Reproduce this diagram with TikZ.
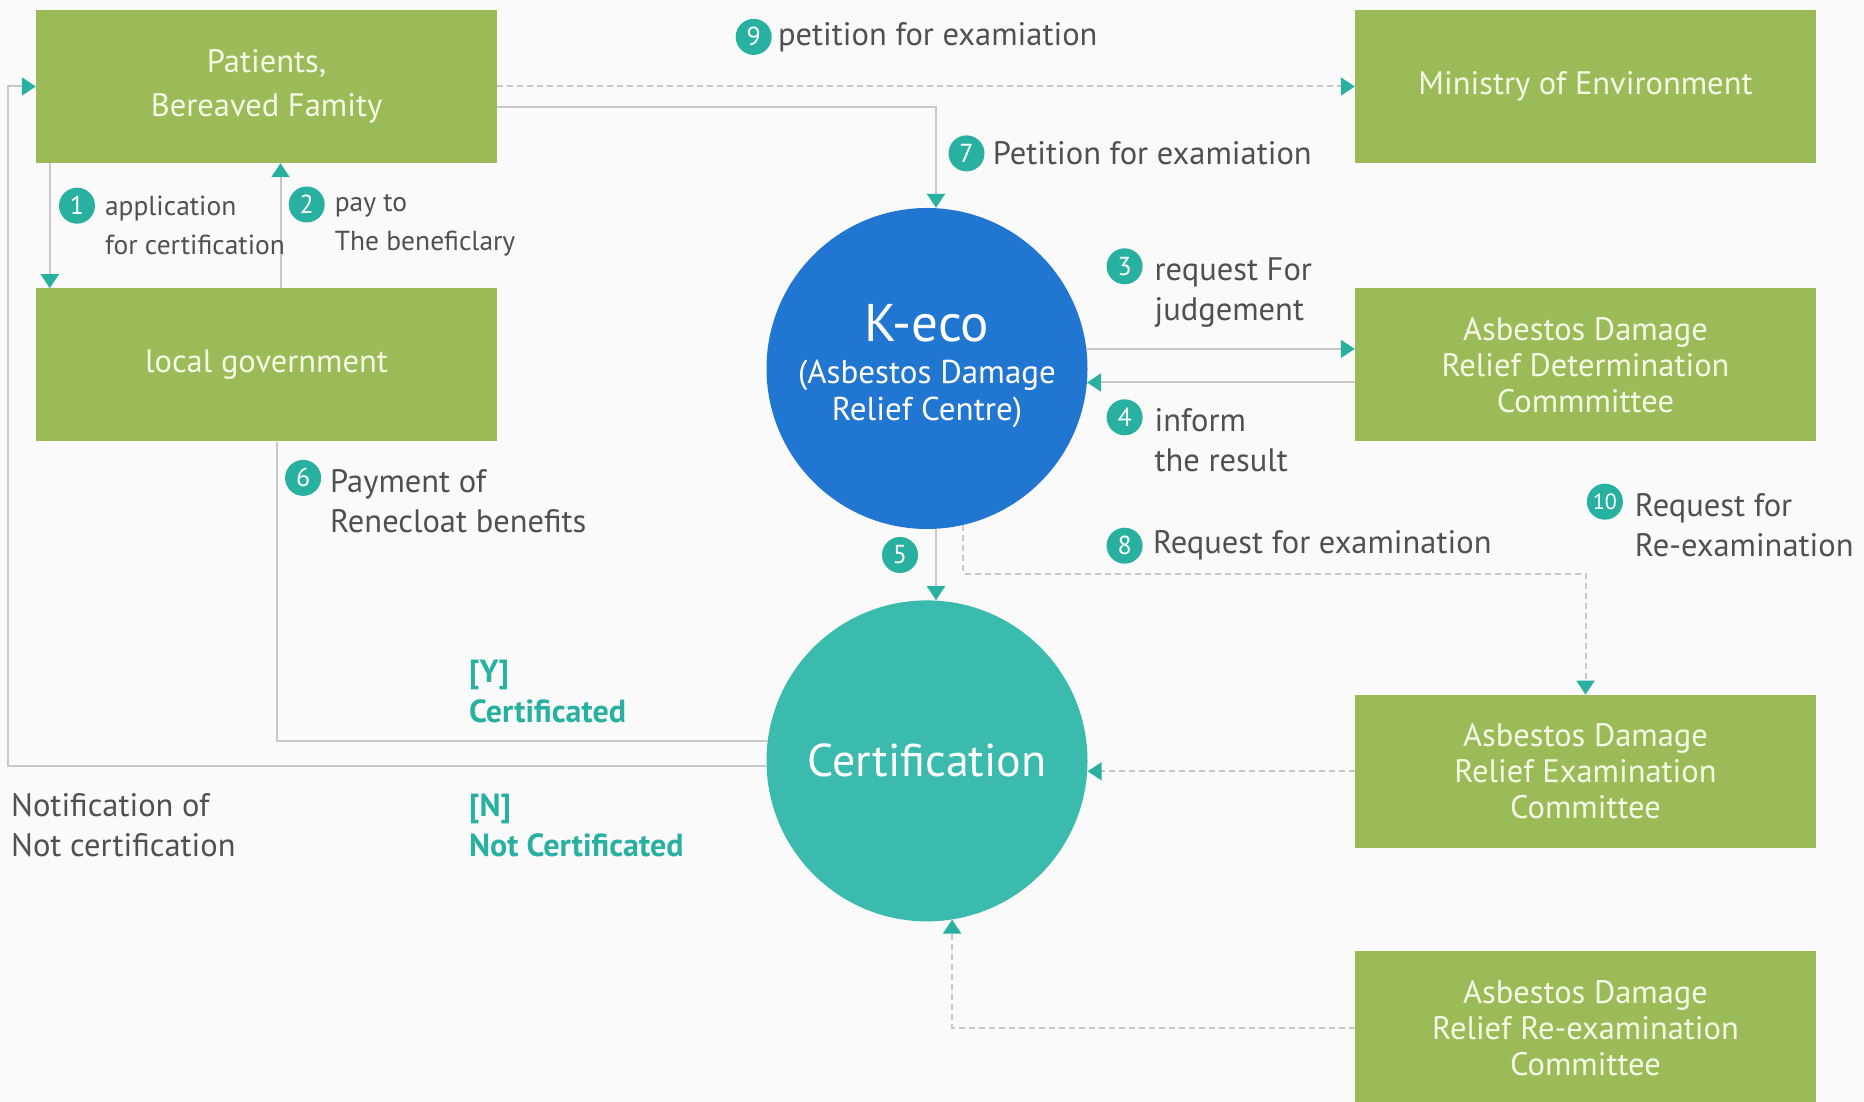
\documentclass[tikz,border=0pt]{standalone}
\usepackage{fontspec}
\setmainfont{PT Sans}
\usetikzlibrary{positioning,arrows.meta}

\definecolor{boxgreen}{RGB}{155,187,89}
\definecolor{boxtext}{RGB}{245,250,228}
\definecolor{kecoblue}{RGB}{33,118,210}
\definecolor{certteal}{RGB}{59,187,174}
\definecolor{numteal}{RGB}{40,176,160}
\definecolor{linegray}{RGB}{200,200,200}
\definecolor{labgray}{RGB}{80,80,80}
\definecolor{bgwhite}{RGB}{250,250,250}

\begin{document}
\begin{tikzpicture}[x=1pt, y=1pt,
node distance = 125pt and 64pt,
box/.style={rectangle, fill=boxgreen, text=boxtext, minimum width=461pt, minimum height=153pt, inner sep=0pt, align=center, font=\fontsize{32.5}{36}\selectfont},
hub/.style={circle, minimum size=321pt, inner sep=0pt, align=center, text=white},
num/.style={circle, fill=numteal, text=white, minimum size=36pt, inner sep=0pt, font=\fontsize{26}{26}\selectfont},
lab/.style={text=labgray, align=left, inner sep=0pt, font=\fontsize{32.5}{40}\selectfont},
smalllab/.style={text=labgray, align=left, inner sep=0pt, font=\fontsize{27.5}{39}\selectfont},
tealab/.style={text=numteal, align=left, inner sep=0pt, font=\bfseries\fontsize{32}{40}\selectfont},
conn/.style={draw=linegray, line width=2pt, -{Stealth[inset=0pt, length=14pt, width=18pt, color=numteal]}},
dconn/.style={conn, dash pattern=on 6pt off 4pt},
link/.style={draw=linegray, line width=2pt}]

\fill[bgwhite] (0,0) rectangle (1864,1102);
\useasboundingbox (0,0) rectangle (1864,1102);

% boxes
\node[box] (pat) at (266.5,1015.5) {Patients,\\[8pt]Bereaved Famity};
\node[box] (lg) [below = of pat] {local government};
\node[box] (moe) at (1585.5,1015.5) {Ministry of Environment};
\node[box] (det) [below = of moe] {Asbestos Damage\\Relief Determination\\Commmittee};
\node[box] (exam) [below = 253pt of det] {Asbestos Damage\\Relief Examination\\Committee};
\node[box] (reexam) [below = 103pt of exam] {Asbestos Damage\\Relief Re-examination\\Committee};

% circles
\node[hub, fill=kecoblue, font=\fontsize{33}{37}\selectfont] (keco) at (927,733.5) {{\fontsize{53}{53}\selectfont K-eco}\\[5pt](Asbestos Damage\\Relief Centre)\\[-25pt]\mbox{}};
\node[hub, fill=certteal, font=\fontsize{46}{46}\selectfont] (cert) [below = 71pt of keco] {Certification};

% connectors
\draw[dconn] (pat.east) -- (moe.west);
\draw[conn] ([yshift=-21pt]pat.east) -| ([xshift=9pt]keco.north);
\draw[conn] ([xshift=14pt]pat.south west) -- ([xshift=14pt]lg.north west);
\draw[conn] ([xshift=14pt]lg.north) -- ([xshift=14pt]pat.south);
\draw[conn] (keco.7) -- (keco.7 -| det.west);
\draw[conn] (keco.355 -| det.west) -- (keco.355);
\draw[conn] ([xshift=9pt]keco.south) -- ([xshift=9pt]cert.north);
\draw[dconn] (keco.283) |- ([yshift=121pt]exam.north) -- (exam.north);
\draw[dconn] (exam.west) -- (exam.west -| cert.east);
\draw[dconn] (reexam.west) -| (cert.279);
\draw[link] ([xshift=10pt]lg.south) |- (cert.173);
\coordinate (edge) at (8,0);
\draw[conn] (cert.182) -- (cert.182 -| edge) |- (pat.west);

% numbered labels
\node[num] (n1) at (77,896.3) {1};
\node[smalllab, right = 15pt of n1.north east, anchor=north west, yshift=-3pt] (t1) {application\\for certification};
\node[num] (n2) at (306.7,897.5) {2};
\node[smalllab, right = 15pt of n2.north east, anchor=north west, yshift=-3pt] (t2) {pay to\\The beneficlary};
\node[num] (n9) at (753.7,1065.1) {9};
\node[lab, right = 6pt of n9] (t9) {petition for examiation};
\node[num] (n7) at (966.5,948.6) {7};
\node[lab, right = 8pt of n7] (t7) {Petition for examiation};
\node[num] (n3) at (1124.6,835.7) {3};
\node[lab, right = 17pt of n3.north east, anchor=north west, yshift=-4pt] (t3) {request For\\judgement};
\node[num] (n4) at (1124.6,684.7) {4};
\node[lab, right = 17pt of n4.north east, anchor=north west, yshift=-4pt] (t4) {inform\\the result};
\node[num] (n6) at (303.1,624.1) {6};
\node[lab, right = 14pt of n6.north east, anchor=north west, yshift=-4pt] (t6) {Payment of\\Renecloat benefits};
\node[num] (n5) at (900,547) {5};
\node[num] (n8) at (1124.6,556.3) {8};
\node[lab, right = 10pt of n8] (t8) {Request for examination};
\node[num, font=\fontsize{22}{22}\selectfont] (n10) at (1604.9,600.3) {10};
\node[lab, right = 17pt of n10.north east, anchor=north west, yshift=-4pt] (t10) {Request for\\Re-examination};

% result labels
\node[tealab, anchor=west] (yes) at (469,410.6) {[Y]\\Certificated};
\node[tealab, anchor=west] (no) at (469,276.5) {[N]\\Not Certificated};
\node[lab, anchor=west] (note) at (11,276.5) {Notification of\\Not certification};
\end{tikzpicture}
\end{document}
